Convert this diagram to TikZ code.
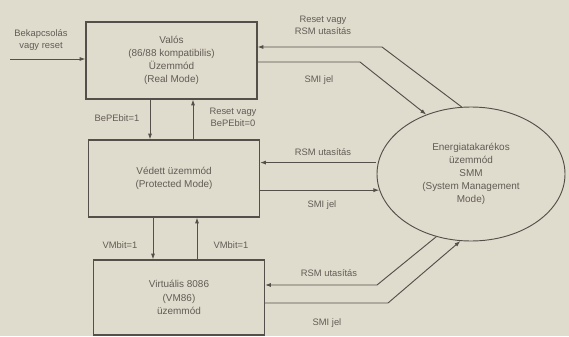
\documentclass[tikz,border=0pt]{standalone}
\usepackage{fontspec}
\setmainfont{Liberation Sans}
\usepackage{tikz}
\usepackage{xcolor}
\usetikzlibrary{positioning}
\usetikzlibrary{shapes.geometric}
\usetikzlibrary{arrows.meta}
\definecolor{papercolor}{RGB}{224, 220, 205}
\definecolor{inkcolor}{RGB}{84, 79, 73}
\definecolor{textcolor}{RGB}{98, 92, 85}
\tikzstyle{cmode} = [
	draw=inkcolor,
	line width=0.9pt,
	minimum width=5.13cm,
	minimum height=2.31cm,
	align=center,
	text=textcolor,
	font=\fontsize{8.5}{11.3}\selectfont
]
\tikzstyle{smode} = [
	draw=inkcolor,
	ellipse,
	line width=0.8pt,
	minimum width=5.64cm,
	minimum height=4.02cm,
	inner sep=0pt,
	align=center,
	text=textcolor,
	font=\fontsize{8.5}{11}\selectfont
]
\tikzstyle{clabel} = [
	align=center,
	text=textcolor,
	inner sep=1pt,
	font=\fontsize{8}{10.5}\selectfont
]
\tikzstyle{carrow} = [
	draw=inkcolor,
	line width=0.8pt,
	-{Latex[length=5pt,width=3.5pt]}
]

\begin{document}
\begin{tikzpicture}[x=0.03cm, y=-0.03cm]
	\fill[papercolor] (0,0) rectangle (569,336);
	\useasboundingbox (0,0) rectangle (569,336);

	%
	% Modes
	\node[cmode] (real) at (171.5,60.5) {Valós\\(86/88 kompatibilis)\\Üzemmód\\(Real Mode)};
	\node[cmode] (prot) at (174,178.5) {Védett üzemmód\\(Protected Mode)};
	\node[cmode, minimum height=2.25cm] (virt) at (179,297.5) {Virtuális 8086\\(VM86)\\üzemmód};
	\node[smode] (smm) at (471,174) {Energiatakarékos\\üzemmód\\SMM\\(System Management\\Mode)};

	%
	% Power on
	\coordinate (pwr) at (10,59);
	\node[clabel] (lpwr) at (41,40) {Bekapcsolás\\vagy reset};
	\draw[carrow] (pwr) -- (real.west |- pwr);

	%
	% Real <-> Protected
	\coordinate (xa) at (150,0);
	\coordinate (xb) at (193,0);
	\draw[carrow] (real.south -| xa) -- (prot.north -| xa);
	\draw[carrow] (prot.north -| xb) -- (real.south -| xb);
	\node[clabel] (lpe1) at (117,118) {BePEbit=1};
	\node[clabel] (lpe0) at (233,117) {Reset vagy\\BePEbit=0};

	%
	% Protected <-> Virtual
	\coordinate (xc) at (153,0);
	\coordinate (xd) at (197,0);
	\draw[carrow] (prot.south -| xc) -- (virt.north -| xc);
	\draw[carrow] (virt.north -| xd) -- (prot.south -| xd);
	\node[clabel] (lvm1) at (120,245) {VMbit=1};
	\node[clabel] (lvm0) at (231,245) {VMbit=1};

	%
	% Real <-> SMM
	\coordinate (tb1) at (382,47);
	\coordinate (tb2) at (360,62);
	\draw[carrow] (smm.98) -- (tb1) -- (real.east |- tb1);
	\draw[carrow] (real.east |- tb2) -- (tb2) -- (smm.127);
	\node[clabel] (ltrsm) at (323,25) {Reset vagy\\RSM utasítás};
	\node[clabel] (ltsmi) at (319,80) {SMI jel};

	%
	% Protected <-> SMM
	\draw[carrow, shorten <=2pt] (smm.173) -- (prot.east |- smm.173);
	\draw[carrow] (prot.east |- smm.190) -- (smm.190);
	\node[clabel] (lmrsm) at (323,152) {RSM utasítás};
	\node[clabel] (lmsmi) at (322,205) {SMI jel};

	%
	% Virtual <-> SMM
	\coordinate (bb1) at (377,285);
	\coordinate (bb2) at (388,303);
	\draw[carrow] (smm.241) -- (bb1) -- (virt.east |- bb1);
	\draw[carrow] (virt.east |- bb2) -- (bb2) -- (smm.261);
	\node[clabel] (lbrsm) at (329,273) {RSM utasítás};
	\node[clabel] (lbsmi) at (327,323) {SMI jel};

\end{tikzpicture}
\end{document}
